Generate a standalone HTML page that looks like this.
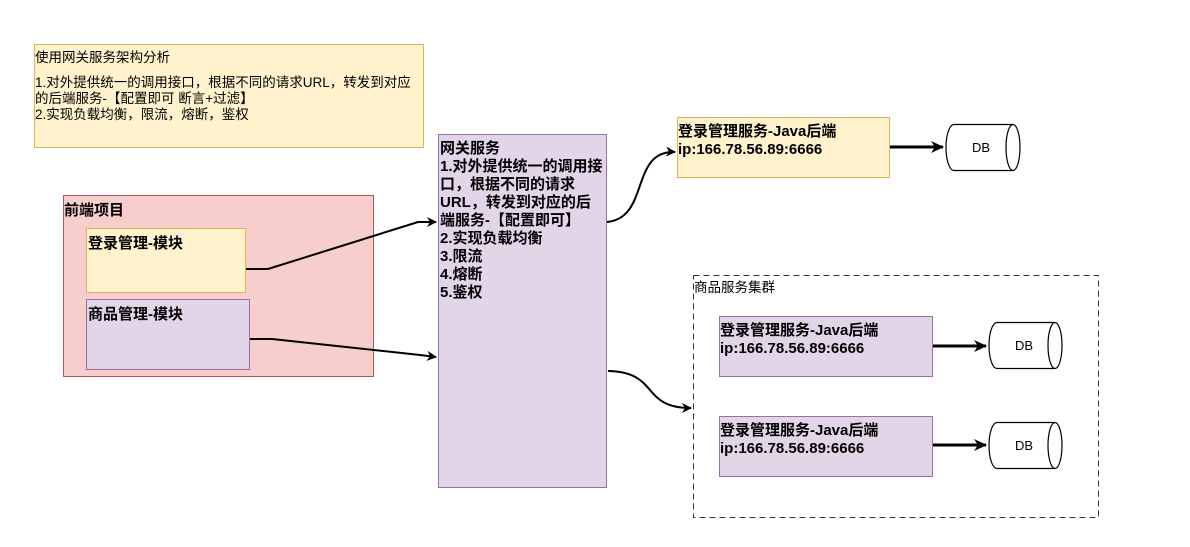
<!DOCTYPE html>
<html><head><meta charset="utf-8"><style>
html,body{margin:0;padding:0;background:#fff;}
svg{display:block;}
text{font-family:"Liberation Sans","Noto Sans CJK SC",sans-serif;fill:#000;}
.b{font-weight:bold;font-size:15px;}
.s{font-size:13.5px;}
</style></head><body>
<svg width="1190" height="547" viewBox="0 0 1190 547" xmlns="http://www.w3.org/2000/svg">
<defs>
<marker id="ar" markerWidth="12" markerHeight="12" refX="9" refY="6" orient="auto" markerUnits="userSpaceOnUse">
<path d="M0,1 L10,6 L0,11 L3,6 Z" fill="#000"/>
</marker>
<marker id="ar2" markerWidth="14" markerHeight="14" refX="12" refY="7" orient="auto" markerUnits="userSpaceOnUse">
<path d="M0,1 L13,7 L0,13 L4,7 Z" fill="#000"/>
</marker>
</defs>
<!-- note -->
<rect x="34.5" y="44.5" width="389" height="103" fill="#fff2cc" stroke="#d6b656"/>
<text class="s" x="35" y="62">使用网关服务架构分析</text>
<text class="s" x="35" y="87">1.对外提供统一的调用接口，根据不同的请求URL，转发到对应</text>
<text class="s" x="35" y="103">的后端服务-【配置即可 断言+过滤】</text>
<text class="s" x="35" y="119">2.实现负载均衡，限流，熔断，鉴权</text>
<!-- front-end -->
<rect x="63.5" y="195.5" width="310" height="181" fill="#f8cecc" stroke="#b85450"/>
<text class="b" x="64" y="215">前端项目</text>
<rect x="86.5" y="228.5" width="159" height="64" fill="#fff2cc" stroke="#d6b656"/>
<text class="b" x="88" y="248">登录管理-模块</text>
<rect x="86.5" y="299.5" width="163" height="70" fill="#e1d5e7" stroke="#9673a6"/>
<text class="b" x="88" y="319">商品管理-模块</text>
<!-- gateway -->
<rect x="438.5" y="134.5" width="168" height="353" fill="#e1d5e7" stroke="#9673a6"/>
<text class="b" x="440" y="153">网关服务</text>
<text class="b" x="440" y="171">1.对外提供统一的调用接</text>
<text class="b" x="440" y="189">口，根据不同的请求</text>
<text class="b" x="440" y="207">URL，转发到对应的后</text>
<text class="b" x="440" y="225">端服务-【配置即可】</text>
<text class="b" x="440" y="243">2.实现负载均衡</text>
<text class="b" x="440" y="261">3.限流</text>
<text class="b" x="440" y="279">4.熔断</text>
<text class="b" x="440" y="297">5.鉴权</text>
<!-- login service -->
<rect x="677.5" y="117.5" width="212" height="60" fill="#fff2cc" stroke="#d6b656"/>
<text class="b" x="678" y="136">登录管理服务-Java后端</text>
<text class="b" x="678" y="154">ip:166.78.56.89:6666</text>
<!-- cluster -->
<rect x="693.5" y="275.5" width="405" height="242" fill="none" stroke="#333" stroke-dasharray="6,4"/>
<text class="s" x="694" y="292">商品服务集群</text>
<rect x="719.5" y="316.5" width="213" height="60" fill="#e1d5e7" stroke="#9673a6"/>
<text class="b" x="720" y="335">登录管理服务-Java后端</text>
<text class="b" x="720" y="353">ip:166.78.56.89:6666</text>
<rect x="719.5" y="416.5" width="213" height="60" fill="#e1d5e7" stroke="#9673a6"/>
<text class="b" x="720" y="435">登录管理服务-Java后端</text>
<text class="b" x="720" y="453">ip:166.78.56.89:6666</text>
<!-- DB cylinders -->
<g fill="#fff" stroke="#000" stroke-width="1.2">
<path d="M954,124.5 L1013,124.5 A7,23 0 0 1 1013,170.5 L954,170.5 A8,23 0 0 1 954,124.5 Z"/>
<path d="M1013,124.5 A7,23 0 0 0 1013,170.5" fill="none"/>
<path d="M997,322.5 L1055,322.5 A7,23 0 0 1 1055,368.5 L997,368.5 A8,23 0 0 1 997,322.5 Z"/>
<path d="M1055,322.5 A7,23 0 0 0 1055,368.5" fill="none"/>
<path d="M997,422.5 L1055,422.5 A7,23 0 0 1 1055,468.5 L997,468.5 A8,23 0 0 1 997,422.5 Z"/>
<path d="M1055,422.5 A7,23 0 0 0 1055,468.5" fill="none"/>
</g>
<text x="972" y="152" font-size="13">DB</text>
<text x="1015" y="350" font-size="13">DB</text>
<text x="1015" y="450" font-size="13">DB</text>
<!-- arrows -->
<g fill="none" stroke="#000" stroke-width="2">
<path d="M246,269 L268,269 L418,222 L436,222" marker-end="url(#ar)"/>
<path d="M250,339 L272,339 L420,355 L436,357" marker-end="url(#ar)"/>
<path d="M607,222 C650,218 630,150 675,152" marker-end="url(#ar)"/>
<path d="M608,371 C660,372 640,408 691,408" marker-end="url(#ar)"/>
<path d="M890,147 L943,147" stroke-width="3" marker-end="url(#ar2)"/>
<path d="M933,346 L986,346" stroke-width="3" marker-end="url(#ar2)"/>
<path d="M933,445 L986,445" stroke-width="3" marker-end="url(#ar2)"/>
</g>
</svg>
</body></html>
